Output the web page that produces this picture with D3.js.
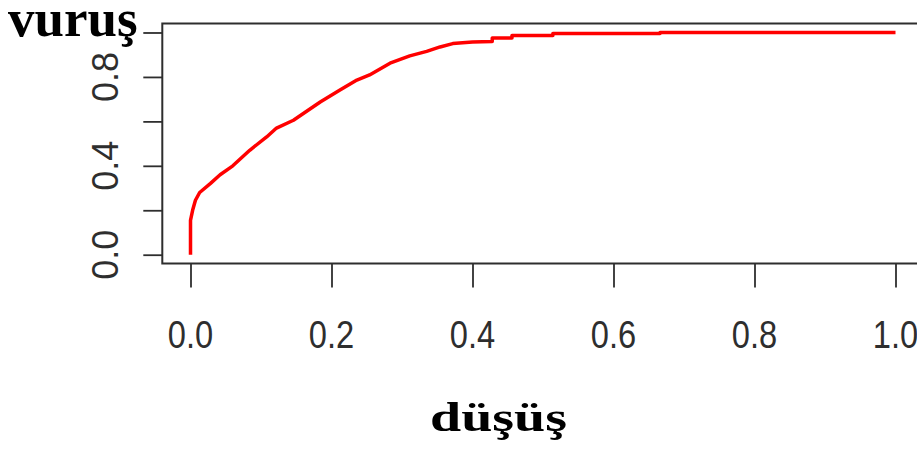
<!DOCTYPE html>
<html>
<head>
<meta charset="utf-8">
<script src="https://cdn.jsdelivr.net/npm/d3@7"></script>
<style>
  html, body { margin: 0; padding: 0; background: #fff; overflow: hidden; }
  svg { display: block; }
</style>
</head>
<body>
<svg id="chart" width="917" height="454"></svg>
<script>
// ---- data ----
const fpr = [0, 0, 0.003, 0.007, 0.013, 0.028, 0.042, 0.06, 0.084, 0.108, 0.122, 0.146,
             0.184, 0.212, 0.236, 0.254, 0.283, 0.311, 0.335, 0.354, 0.372, 0.40, 0.428,
             0.428, 0.456, 0.456, 0.514, 0.514, 0.666, 0.666, 1.0];
const tpr = [0, 0.155, 0.2, 0.245, 0.28, 0.32, 0.36, 0.40, 0.47, 0.53, 0.57, 0.605,
             0.687, 0.741, 0.786, 0.809, 0.862, 0.895, 0.915, 0.935, 0.95, 0.957, 0.959,
             0.975, 0.975, 0.987, 0.987, 0.995, 0.995, 1.0, 1.0];
const xTicks = [0, 0.2, 0.4, 0.6, 0.8, 1.0];
const xTickLabels = ["0.0", "0.2", "0.4", "0.6", "0.8", "1.0"];
const yTicks = [0, 0.2, 0.4, 0.6, 0.8, 1.0];
const yTickLabels = ["0.0", "", "0.4", "", "0.8", ""];
const xTitle = "düşüş";
const yTitle = "vuruş";

// ---- layout ----
const svg = d3.select("#chart");
const x = d3.scaleLinear().domain([-0.04, 1.04]).range([162.3, 923.7]);
const y = d3.scaleLinear().domain([-0.04, 1.04]).range([263.6, 23.6]);
const axisColor = "#2e2e2e";

// box (left, top, bottom)
svg.append("path")
  .attr("d", `M${x(1.04)+5},${y(1.04)} H${x(-0.04)} V${y(-0.04)} H${x(1.04)+5}`)
  .attr("fill", "none").attr("stroke", axisColor).attr("stroke-width", 2);

// x axis ticks
const xAxis = d3.axisBottom(x).tickValues(xTicks).tickSize(24).tickFormat("");
const gx = svg.append("g").attr("transform", `translate(0,${y(-0.04)})`).call(xAxis);
gx.select(".domain").remove();
gx.selectAll(".tick line").attr("stroke", axisColor).attr("stroke-width", 1.8);

svg.append("g").selectAll("text").data(xTicks).join("text")
  .attr("transform", d => `translate(${x(d)},348) scale(0.86,1)`)
  .attr("text-anchor", "middle")
  .attr("font-family", "Liberation Sans, Arial, sans-serif")
  .attr("font-size", 38)
  .attr("fill", axisColor)
  .text((d, i) => xTickLabels[i]);

// y axis ticks
const yAxis = d3.axisLeft(y).tickValues(yTicks).tickSize(19).tickFormat("");
const gy = svg.append("g").attr("transform", `translate(${x(-0.04)},0)`).call(yAxis);
gy.select(".domain").remove();
gy.selectAll(".tick line").attr("stroke", axisColor).attr("stroke-width", 1.8);

svg.append("g").selectAll("text").data(yTicks.filter((d, i) => yTickLabels[i] !== "")).join("text")
  .attr("transform", d => `translate(118,${y(d)}) rotate(-90)`)
  .attr("text-anchor", "middle")
  .attr("font-family", "Liberation Sans, Arial, sans-serif")
  .attr("font-size", 36)
  .attr("fill", axisColor)
  .text(d => yTickLabels[yTicks.indexOf(d)]);

// curve
const pts = fpr.map((f, i) => [f, tpr[i]]);
svg.append("path")
  .datum(pts)
  .attr("d", d3.line().x(d => x(d[0])).y(d => y(d[1])))
  .attr("fill", "none")
  .attr("stroke", "#ff0000")
  .attr("stroke-width", 3.5)
  .attr("stroke-linejoin", "round");

// titles
svg.append("text")
  .attr("x", 8).attr("y", 36)
  .attr("font-family", "Liberation Serif, Times New Roman, serif")
  .attr("font-weight", "bold")
  .attr("font-size", 53)
  .attr("fill", "#000")
  .text(yTitle);

svg.append("text")
  .attr("x", 430).attr("y", 431)
  .attr("font-family", "Liberation Serif, Times New Roman, serif")
  .attr("font-weight", "bold")
  .attr("font-size", 43)
  .attr("textLength", 137)
  .attr("lengthAdjust", "spacingAndGlyphs")
  .attr("fill", "#000")
  .text(xTitle);
</script>
</body>
</html>
